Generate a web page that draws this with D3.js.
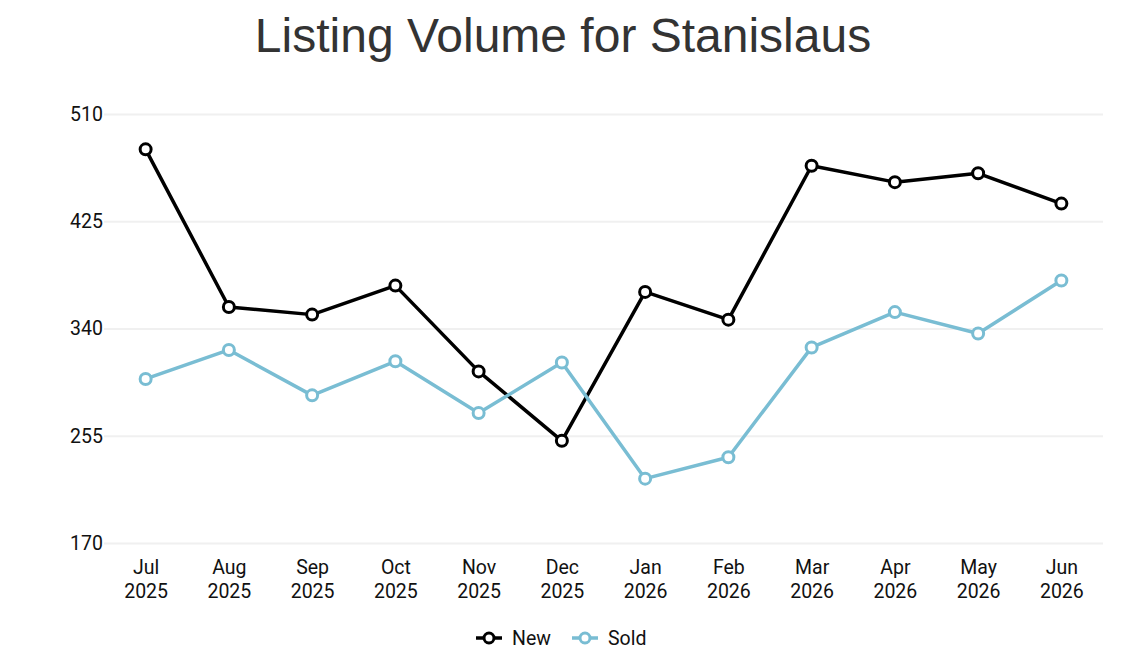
<!DOCTYPE html>
<html>
<head>
<meta charset="utf-8">
<script src="https://cdn.jsdelivr.net/npm/d3@7"></script>
<style>
  html, body { margin: 0; padding: 0; background: #fff; }
  svg { display: block; }
</style>
</head>
<body>
<svg id="chart" width="1124" height="668"></svg>
<script>
const titleText = "Listing Volume for Stanislaus";
const months = ["Jul", "Aug", "Sep", "Oct", "Nov", "Dec", "Jan", "Feb", "Mar", "Apr", "May", "Jun"];
const years = ["2025", "2025", "2025", "2025", "2025", "2025", "2026", "2026", "2026", "2026", "2026", "2026"];
const newValues = [482, 357, 351, 374, 306, 251, 369, 347, 469, 456, 463, 439];
const soldValues = [300, 323, 287, 314, 273, 313, 221, 238, 325, 353, 336, 378];
const yTicks = [170, 255, 340, 425, 510];
const seriesNames = ["New", "Sold"];
const seriesColors = ["#000000", "#79bdd3"];

const svg = d3.select("#chart");
const W = 1124, H = 668;
const margin = { left: 104, right: 21, top: 114, bottom: 125 };
const labelSize = 19.5;

const categories = months.map((m, i) => m + " " + years[i]);

const x = d3.scalePoint()
  .domain(categories)
  .range([margin.left, W - margin.right])
  .padding(0.5);

const y = d3.scaleLinear()
  .domain([170, 510])
  .range([H - margin.bottom, margin.top]);

// Title
svg.append("text")
  .attr("x", W / 2 + 1)
  .attr("y", 52)
  .attr("text-anchor", "middle")
  .attr("font-family", "'Liberation Sans', Arial, sans-serif")
  .attr("font-size", 48)
  .attr("fill", "#333333")
  .text(titleText);

// Grid lines
const yAxis = d3.axisLeft(y)
  .tickValues(yTicks)
  .tickSize(-(W - margin.right - margin.left))
  .tickPadding(10)
  .tickFormat(d3.format("d"));

const gy = svg.append("g")
  .attr("transform", `translate(${margin.left},0)`)
  .call(yAxis);
gy.select(".domain").remove();
gy.selectAll(".tick line").attr("stroke", "#f0f0f0").attr("stroke-width", 2);
gy.selectAll(".tick text")
  .attr("font-family", "Roboto, sans-serif")
  .attr("font-size", labelSize)
  .attr("fill", "#111")
  .attr("x", -1);

// X axis labels
const xAxis = d3.axisBottom(x).tickSize(0).tickFormat(() => "");
const gx = svg.append("g")
  .attr("transform", `translate(0,${H - margin.bottom})`)
  .call(xAxis);
gx.select(".domain").remove();
gx.selectAll(".tick").each(function(d, i) {
  const t = d3.select(this).select("text")
    .attr("font-family", "Roboto, sans-serif")
    .attr("font-size", labelSize)
    .attr("fill", "#111")
    .attr("text-anchor", "middle")
    .attr("y", 0)
    .attr("dy", null)
    .text(null);
  t.append("tspan").attr("x", 0).attr("y", 31).text(months[i]);
  t.append("tspan").attr("x", 0).attr("y", 55).text(years[i]);
});

// Lines and markers
const seriesData = [newValues, soldValues];
const line = d3.line()
  .x((d, i) => x(categories[i]))
  .y(d => y(d));

seriesData.forEach((vals, si) => {
  const g = svg.append("g");
  g.append("path")
    .datum(vals)
    .attr("d", line)
    .attr("fill", "none")
    .attr("stroke", seriesColors[si])
    .attr("stroke-width", 3.5)
    .attr("stroke-linejoin", "round");
  g.selectAll("circle")
    .data(vals)
    .enter().append("circle")
    .attr("cx", (d, i) => x(categories[i]))
    .attr("cy", d => y(d))
    .attr("r", 5.5)
    .attr("fill", "#fff")
    .attr("stroke", seriesColors[si])
    .attr("stroke-width", 3);
});

// Legend
const legend = svg.append("g").attr("transform", `translate(0,638)`);
const legendItems = [
  { name: seriesNames[0], color: seriesColors[0], x: 476 },
  { name: seriesNames[1], color: seriesColors[1], x: 572 }
];
legendItems.forEach(it => {
  const g = legend.append("g").attr("transform", `translate(${it.x},0)`);
  g.append("line").attr("x1", 0).attr("x2", 26).attr("y1", 0).attr("y2", 0)
    .attr("stroke", it.color).attr("stroke-width", 3.5);
  g.append("circle").attr("cx", 13).attr("cy", 0).attr("r", 5)
    .attr("fill", "#fff").attr("stroke", it.color).attr("stroke-width", 3);
  g.append("text").attr("x", 36).attr("y", 7)
    .attr("font-family", "Roboto, sans-serif")
    .attr("font-size", labelSize)
    .attr("fill", "#111")
    .text(it.name);
});
</script>
</body>
</html>
